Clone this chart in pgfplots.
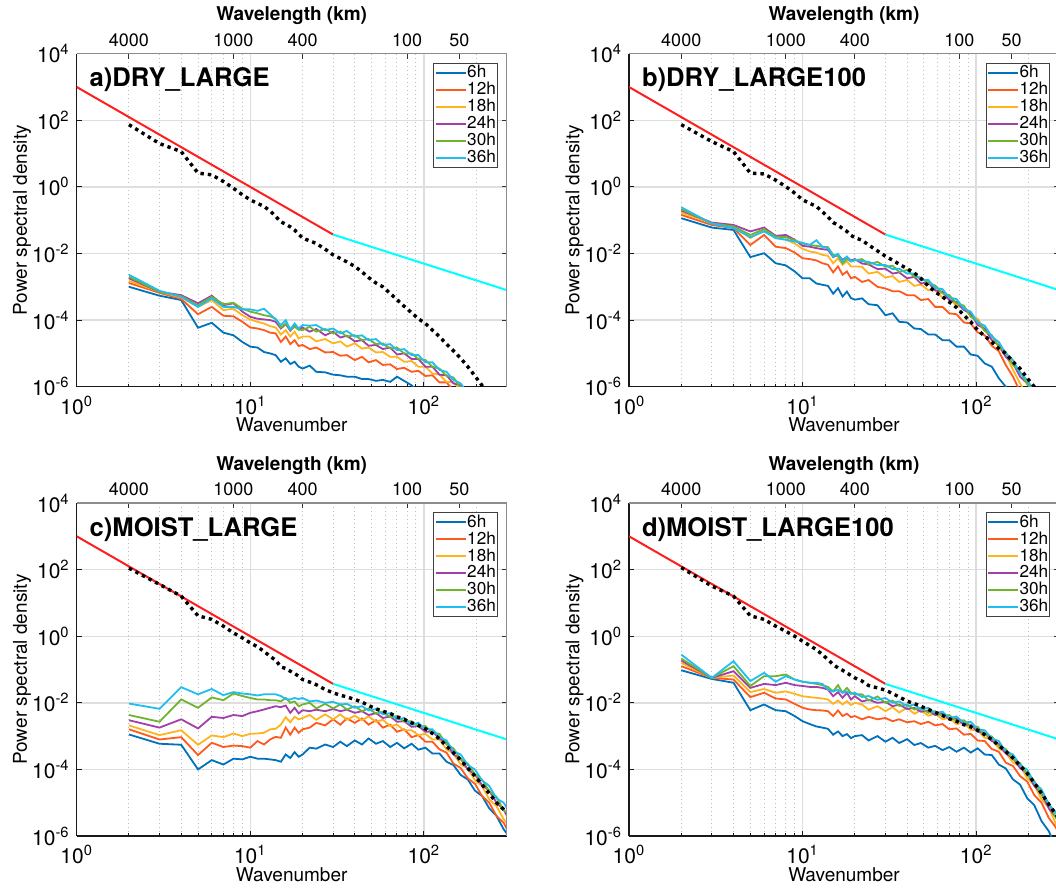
\documentclass[border=0pt]{standalone}
\usepackage{fontspec}
\setmainfont{TeX Gyre Heros}
\usepackage{pgfplots}
\usepackage{pgfplotstable}
\pgfplotsset{compat=1.18}

\definecolor{c6}{HTML}{0072BD}
\definecolor{c12}{HTML}{FF5A1E}
\definecolor{c18}{HTML}{FFB41E}
\definecolor{c24}{HTML}{A040A8}
\definecolor{c30}{HTML}{70B42D}
\definecolor{c36}{HTML}{1EBEF0}
\definecolor{redl}{HTML}{FF1E1E}
\definecolor{cyanl}{HTML}{00FFFF}
\definecolor{gridmaj}{HTML}{DEDEDE}
\definecolor{gridmin}{HTML}{BDBDBD}

\pgfplotsset{legend image code/.code={\draw[#1, line width=1pt] (0pt,0pt) -- (15pt,0pt);}}

% power spectra, columns: wavenumber, 6h ... 36h, reference (black dotted)
\pgfplotstableread{
k s6 s12 s18 s24 s30 s36 ref
2 1.0e-3 1.3e-3 1.5e-3 1.8e-3 2.0e-3 2.3e-3 74
3 5.4e-4 6.6e-4 7.1e-4 7.1e-4 7.1e-4 7.6e-4 20
4 4.0e-4 4.3e-4 4.8e-4 5.6e-4 5.2e-4 5.0e-4 11.5
5 5.9e-5 1.5e-4 2.5e-4 3.2e-4 2.8e-4 2.5e-4 2.6
6 8.3e-5 2.5e-4 4.0e-4 5.4e-4 5.0e-4 4.5e-4 2.3
7 4.2e-5 1.35e-4 2.0e-4 2.8e-4 3.0e-4 2.5e-4 1.45
8 3.5e-5 1.3e-4 2.2e-4 3.2e-4 3.3e-4 2.5e-4 0.91
9 2.2e-5 8.9e-5 1.4e-4 1.8e-4 2.2e-4 2.1e-4 0.58
10 1.6e-5 6.0e-5 1.05e-4 1.26e-4 1.8e-4 2.1e-4 0.41
11 1.5e-5 5.6e-5 8.9e-5 1.1e-4 1.6e-4 1.9e-4 0.32
12 1.1e-5 5.0e-5 7.9e-5 1.05e-4 1.4e-4 2.2e-4 0.26
13 1.0e-5 4.2e-5 6.6e-5 1.0e-4 1.3e-4 1.5e-4 0.19
14 8.9e-6 4.0e-5 6.0e-5 8.9e-5 1.1e-4 1.05e-4 0.13
15 5.6e-6 2.2e-5 3.7e-5 5.6e-5 6.0e-5 7.1e-5 0.089
16 7.1e-6 3.2e-5 5.0e-5 7.6e-5 7.9e-5 1.0e-4 0.076
17 4.8e-6 1.9e-5 3.2e-5 4.8e-5 5.2e-5 5.2e-5 0.063
18 5.6e-6 2.5e-5 4.5e-5 6.6e-5 6.3e-5 7.9e-5 0.051
19 4.0e-6 1.66e-5 2.8e-5 5.2e-5 5.2e-5 5.6e-5 0.038
20 3.5e-6 1.8e-5 3.2e-5 6.0e-5 5.0e-5 7.1e-5 0.029
22 4.3e-6 1.35e-5 3.2e-5 4.5e-5 6.3e-5 6.8e-5 0.024
24 2.8e-6 1.5e-5 2.3e-5 5.4e-5 4.5e-5 7.1e-5 0.020
27 2.7e-6 1.07e-5 2.7e-5 3.5e-5 5.4e-5 5.0e-5 0.0135
30 2.3e-6 1.1e-5 2.0e-5 4.5e-5 4.0e-5 5.6e-5 0.0091
33 2.2e-6 8.5e-6 2.3e-5 3.0e-5 4.5e-5 4.0e-5 0.0071
36 2.0e-6 8.9e-6 1.6e-5 3.4e-5 3.2e-5 4.7e-5 0.0056
40 2.0e-6 6.3e-6 2.0e-5 2.3e-5 3.5e-5 3.2e-5 0.0041
44 1.7e-6 7.9e-6 1.4e-5 2.5e-5 2.5e-5 3.5e-5 0.0028
48 1.7e-6 5.4e-6 1.5e-5 1.7e-5 2.7e-5 2.5e-5 0.0019
53 1.5e-6 6.3e-6 1.07e-5 1.8e-5 1.9e-5 2.7e-5 0.0013
58 1.6e-6 4.5e-6 1.1e-5 1.35e-5 2.0e-5 1.8e-5 1.0e-3
64 1.4e-6 4.7e-6 7.9e-6 1.5e-5 1.4e-5 1.9e-5 6.3e-4
70 2.0e-6 3.4e-6 7.9e-6 9.3e-6 1.5e-5 1.26e-5 4.1e-4
77 1.5e-6 3.7e-6 5.6e-6 1.0e-5 1.0e-5 1.35e-5 2.6e-4
85 1.1e-6 2.8e-6 5.9e-6 6.8e-6 1.0e-5 8.9e-6 1.66e-4
93 7.1e-7 3.0e-6 4.0e-6 6.8e-6 6.8e-6 8.9e-6 1.1e-4
102 nan 2.1e-6 4.0e-6 4.0e-6 6.3e-6 5.4e-6 7.9e-5
112 nan 2.2e-6 2.5e-6 4.0e-6 4.0e-6 5.4e-6 5.0e-5
123 nan 1.35e-6 2.3e-6 2.3e-6 3.5e-6 3.2e-6 3.2e-5
135 nan 1.35e-6 1.4e-6 2.2e-6 2.1e-6 2.8e-6 1.9e-5
148 nan 7.9e-7 1.35e-6 1.26e-6 1.9e-6 1.6e-6 1.2e-5
163 nan nan 7.9e-7 1.1e-6 9.3e-7 1.26e-6 7.1e-6
179 nan nan nan 6.3e-7 6.3e-7 6.3e-7 4.0e-6
197 nan nan nan nan nan nan 2.1e-6
216 nan nan nan nan nan nan 1.1e-6
238 nan nan nan nan nan nan 5.0e-7
}\tabA

\pgfplotstableread{
k s6 s12 s18 s24 s30 s36 ref
2 0.115 0.145 0.17 0.195 0.214 0.245 74
3 0.060 0.072 0.081 0.085 0.081 0.079 23
4 0.051 0.058 0.065 0.072 0.065 0.058 11.5
5 0.0078 0.018 0.029 0.046 0.036 0.031 2.6
6 0.0102 0.036 0.051 0.060 0.054 0.046 2.45
7 0.0051 0.016 0.029 0.034 0.032 0.029 1.6
8 0.0044 0.0145 0.026 0.036 0.031 0.026 1.02
9 0.0029 0.0107 0.020 0.026 0.025 0.023 0.65
10 0.0018 0.0072 0.0138 0.017 0.020 0.021 0.41
11 0.0018 0.0068 0.0115 0.016 0.018 0.018 0.32
12 0.00126 0.0062 0.0107 0.0145 0.017 0.025 0.26
13 0.00115 0.0051 0.0091 0.0135 0.016 0.016 0.18
14 0.00107 0.0046 0.0085 0.0129 0.0155 0.0145 0.126
15 6.2e-4 0.0027 0.0051 0.0078 0.0091 0.0081 0.085
16 9.1e-4 0.0041 0.0072 0.0091 0.0085 0.0098 0.071
17 5.1e-4 0.0023 0.0046 0.0065 0.0051 0.0058 0.056
18 7.2e-4 0.0029 0.0058 0.0078 0.0068 0.0081 0.046
19 4.6e-4 0.0018 0.0041 0.0062 0.0058 0.0058 0.035
20 4.1e-4 0.0020 0.0041 0.0068 0.0062 0.0065 0.030
22 4.5e-4 0.0014 0.0040 0.0050 0.0068 0.0059 0.025
24 3.0e-4 0.0016 0.0025 0.0047 0.0047 0.0056 0.018
27 2.8e-4 0.0010 0.0028 0.0034 0.0056 0.0045 0.012
30 1.4e-4 8.9e-4 0.0019 0.0035 0.0040 0.0045 0.0083
33 1.6e-4 7.4e-4 0.0021 0.0025 0.0043 0.0034 0.0063
36 8.9e-5 7.4e-4 0.0014 0.0027 0.0028 0.0035 0.0048
40 8.5e-5 5.6e-4 0.0016 0.0018 0.0032 0.0025 0.0035
44 5.6e-5 5.6e-4 0.00107 0.0020 0.0020 0.0025 0.0026
48 5.4e-5 4.0e-4 0.00117 0.00126 0.0019 0.0016 0.0018
53 3.7e-5 4.3e-4 7.9e-4 0.00135 0.00126 0.0016 0.00105
58 3.7e-5 2.5e-4 7.9e-4 7.9e-4 0.0011 9.3e-4 7.1e-4
64 2.5e-5 2.5e-4 4.7e-4 7.1e-4 6.3e-4 8.5e-4 5.0e-4
70 2.5e-5 1.6e-4 4.5e-4 4.0e-4 5.6e-4 4.7e-4 3.5e-4
77 1.6e-5 1.5e-4 2.7e-4 3.5e-4 3.2e-4 4.3e-4 2.4e-4
85 1.6e-5 8.5e-5 2.3e-4 2.0e-4 2.7e-4 2.2e-4 1.4e-4
93 9.3e-6 7.9e-5 1.35e-4 1.6e-4 1.26e-4 1.8e-4 8.9e-5
102 8.5e-6 4.3e-5 1.1e-4 7.1e-5 9.3e-5 8.5e-5 5.0e-5
112 5.0e-6 3.5e-5 5.0e-5 5.6e-5 4.7e-5 6.8e-5 3.3e-5
123 4.0e-6 1.7e-5 3.5e-5 2.5e-5 3.5e-5 3.2e-5 2.2e-5
135 1.8e-6 1.17e-5 1.5e-5 1.8e-5 1.6e-5 2.2e-5 1.4e-5
148 1.0e-6 4.5e-6 9.3e-6 7.9e-6 1.1e-5 1.0e-5 1.0e-5
163 5.0e-7 2.0e-6 3.2e-6 5.0e-6 4.5e-6 6.3e-6 5.6e-6
179 nan 7.1e-7 1.26e-6 2.0e-6 2.8e-6 2.5e-6 3.5e-6
197 nan nan 5.0e-7 1.26e-6 1.17e-6 1.6e-6 1.8e-6
216 nan nan nan 5.6e-7 7.9e-7 7.1e-7 1.0e-6
238 nan nan nan nan nan nan 5.0e-7
}\tabB

\pgfplotstableread{
k s6 s12 s18 s24 s30 s36 ref
2 1.12e-3 1.6e-3 2.1e-3 3.0e-3 4.3e-3 9.5e-3 110
3 5.9e-4 7.9e-4 1.07e-3 1.8e-3 2.7e-3 6.6e-3 36
4 5.5e-4 9.3e-4 1.5e-3 3.2e-3 1.26e-2 2.95e-2 16
5 1.0e-4 2.7e-4 5.5e-4 1.7e-3 7.1e-3 1.8e-2 4.1
6 1.9e-4 6.3e-4 1.05e-3 3.8e-3 1.45e-2 2.6e-2 3.2
7 1.4e-4 4.7e-4 9.3e-4 3.5e-3 1.2e-2 1.7e-2 2.0
8 2.1e-4 5.2e-4 1.2e-3 4.3e-3 1.9e-2 2.1e-2 1.26
9 2.0e-4 5.0e-4 1.0e-3 4.0e-3 1.6e-2 1.9e-2 0.89
10 2.4e-4 4.5e-4 1.17e-3 5.0e-3 1.4e-2 1.8e-2 0.63
11 2.1e-4 7.1e-4 1.2e-3 5.6e-3 1.26e-2 1.66e-2 0.48
12 2.1e-4 5.6e-4 1.26e-3 6.3e-3 1.26e-2 1.8e-2 0.35
13 2.0e-4 7.9e-4 1.6e-3 7.1e-3 1.2e-2 1.8e-2 0.25
14 1.9e-4 9.5e-4 1.66e-3 7.9e-3 1.2e-2 1.8e-2 0.19
15 1.7e-4 8.9e-4 2.2e-3 7.4e-3 1.1e-2 1.6e-2 0.12
16 2.8e-4 1.8e-3 3.7e-3 8.3e-3 1.4e-2 1.3e-2 0.107
17 2.2e-4 1.1e-3 2.6e-3 5.0e-3 1.0e-2 1.26e-2 0.089
18 3.3e-4 1.8e-3 3.8e-3 7.1e-3 1.1e-2 1.4e-2 0.076
19 2.4e-4 1.26e-3 3.2e-3 4.8e-3 7.9e-3 1.3e-2 0.063
20 2.8e-4 1.6e-3 3.5e-3 6.0e-3 8.9e-3 1.4e-2 0.050
22 4.5e-4 1.8e-3 4.3e-3 5.6e-3 1.0e-2 1.1e-2 0.042
24 4.2e-4 2.5e-3 3.1e-3 6.2e-3 6.8e-3 1.17e-2 0.035
27 5.6e-4 2.1e-3 4.5e-3 5.6e-3 9.3e-3 1.0e-2 0.025
30 4.7e-4 3.2e-3 3.2e-3 6.5e-3 6.8e-3 1.07e-2 0.020
33 6.8e-4 2.2e-3 4.5e-3 5.6e-3 8.9e-3 8.9e-3 0.017
36 5.0e-4 3.4e-3 3.1e-3 6.2e-3 6.3e-3 9.3e-3 0.015
40 7.4e-4 2.5e-3 4.1e-3 5.0e-3 7.9e-3 7.1e-3 0.0126
44 5.6e-4 3.4e-3 3.0e-3 5.6e-3 5.6e-3 7.9e-3 0.0105
48 8.5e-4 2.2e-3 3.9e-3 4.3e-3 6.8e-3 5.9e-3 8.3e-3
53 5.9e-4 3.0e-3 2.7e-3 4.9e-3 4.7e-3 6.5e-3 6.6e-3
58 7.1e-4 1.8e-3 3.1e-3 3.5e-3 5.4e-3 4.5e-3 5.6e-3
64 4.7e-4 2.2e-3 2.0e-3 3.9e-3 3.7e-3 4.9e-3 4.8e-3
70 6.3e-4 1.35e-3 2.2e-3 2.7e-3 4.0e-3 3.2e-3 3.8e-3
77 4.3e-4 1.6e-3 1.5e-3 2.8e-3 2.7e-3 3.5e-3 3.2e-3
85 5.9e-4 9.3e-4 1.5e-3 1.9e-3 2.8e-3 2.2e-3 2.5e-3
93 3.9e-4 1.07e-3 1.07e-3 2.0e-3 1.9e-3 2.5e-3 2.1e-3
102 4.5e-4 6.8e-4 1.17e-3 1.35e-3 2.0e-3 1.6e-3 1.66e-3
112 3.0e-4 6.8e-4 7.9e-4 1.35e-3 1.26e-3 1.6e-3 1.2e-3
123 3.0e-4 4.0e-4 7.9e-4 8.5e-4 1.17e-3 9.3e-4 8.3e-4
135 1.7e-4 3.2e-4 4.0e-4 6.3e-4 5.6e-4 7.4e-4 5.0e-4
148 1.35e-4 1.5e-4 3.0e-4 2.8e-4 4.3e-4 3.5e-4 3.2e-4
163 6.8e-5 1.1e-4 1.4e-4 2.1e-4 2.0e-4 2.8e-4 1.9e-4
179 5.0e-5 5.4e-5 1.07e-4 1.0e-4 1.5e-4 1.35e-4 1.1e-4
197 2.3e-5 3.7e-5 4.7e-5 7.1e-5 7.1e-5 1.0e-4 6.3e-5
216 1.6e-5 1.6e-5 3.2e-5 3.4e-5 5.0e-5 4.7e-5 3.5e-5
238 6.8e-6 1.0e-5 1.26e-5 2.3e-5 2.2e-5 3.2e-5 1.9e-5
262 4.0e-6 4.0e-6 7.9e-6 1.0e-5 1.5e-5 1.35e-5 1.0e-5
288 1.6e-6 2.5e-6 3.2e-6 6.3e-6 5.9e-6 1.0e-5 6.3e-6
300 1.2e-6 1.66e-6 2.5e-6 4.2e-6 5.0e-6 7.1e-6 5.0e-6
}\tabC

\pgfplotstableread{
k s6 s12 s18 s24 s30 s36 ref
2 0.095 0.126 0.158 0.186 0.214 0.28 115
3 0.052 0.056 0.056 0.056 0.056 0.056 32
4 0.040 0.050 0.066 0.089 0.126 0.178 16
5 0.0060 0.0148 0.021 0.028 0.032 0.045 4.1
6 0.0089 0.020 0.026 0.037 0.063 0.079 3.2
7 0.0060 0.0135 0.020 0.034 0.063 0.043 2.0
8 0.0056 0.0126 0.022 0.040 0.071 0.063 1.41
9 0.0040 0.0093 0.0186 0.034 0.050 0.050 1.0
10 0.0028 0.0071 0.0158 0.032 0.043 0.043 0.71
11 0.0023 0.0063 0.0148 0.030 0.040 0.040 0.52
12 0.00195 0.0060 0.0141 0.030 0.037 0.040 0.40
13 0.0018 0.0059 0.0135 0.028 0.034 0.037 0.28
14 0.00166 0.0056 0.0126 0.025 0.030 0.025 0.20
15 0.0011 0.0040 0.0093 0.0158 0.022 0.022 0.141
16 0.00138 0.0059 0.0117 0.021 0.034 0.025 0.112
17 0.0010 0.0040 0.0089 0.0141 0.020 0.020 0.095
18 0.00115 0.0047 0.0112 0.020 0.028 0.022 0.079
19 8.7e-4 0.0037 0.0085 0.0126 0.020 0.0186 0.066
20 0.0010 0.0040 0.010 0.0158 0.0178 0.020 0.056
22 1.07e-3 3.2e-3 8.9e-3 1.1e-2 1.8e-2 1.5e-2 0.045
24 7.4e-4 3.8e-3 6.2e-3 1.23e-2 1.17e-2 1.6e-2 0.033
27 1.0e-3 3.2e-3 7.9e-3 1.0e-2 1.55e-2 1.23e-2 0.028
30 6.8e-4 3.5e-3 5.6e-3 1.07e-2 1.0e-2 1.4e-2 0.024
33 8.9e-4 2.8e-3 7.4e-3 7.9e-3 1.17e-2 1.0e-2 0.019
36 6.2e-4 3.2e-3 5.1e-3 8.9e-3 8.1e-3 1.1e-2 0.015
40 8.1e-4 2.6e-3 7.1e-3 6.5e-3 8.9e-3 7.9e-3 0.0112
44 5.4e-4 2.8e-3 4.7e-3 7.1e-3 6.3e-3 8.9e-3 9.5e-3
48 6.2e-4 2.3e-3 5.9e-3 5.4e-3 7.1e-3 6.3e-3 7.9e-3
53 4.5e-4 2.7e-3 4.1e-3 5.9e-3 5.0e-3 7.1e-3 6.3e-3
58 5.1e-4 2.1e-3 4.7e-3 4.3e-3 5.6e-3 4.9e-3 5.2e-3
64 3.8e-4 2.3e-3 3.2e-3 4.7e-3 3.9e-3 5.4e-3 4.2e-3
70 4.7e-4 1.6e-3 3.5e-3 3.2e-3 4.3e-3 3.5e-3 3.3e-3
77 3.4e-4 1.7e-3 2.3e-3 3.4e-3 2.8e-3 3.9e-3 2.8e-3
85 4.5e-4 1.1e-3 2.5e-3 2.2e-3 3.0e-3 2.5e-3 2.2e-3
93 3.2e-4 1.17e-3 1.55e-3 2.2e-3 1.95e-3 2.7e-3 1.9e-3
102 4.3e-4 7.4e-4 1.5e-3 1.35e-3 1.9e-3 1.6e-3 1.5e-3
112 2.8e-4 7.1e-4 8.9e-4 1.26e-3 1.07e-3 1.5e-3 1.1e-3
123 2.7e-4 4.1e-4 8.1e-4 7.1e-4 9.8e-4 8.5e-4 7.9e-4
135 1.4e-4 3.4e-4 4.3e-4 5.9e-4 5.1e-4 7.1e-4 5.2e-4
148 1.07e-4 1.6e-4 3.2e-4 3.0e-4 4.1e-4 3.5e-4 3.5e-4
163 5.0e-5 1.26e-4 1.6e-4 2.2e-4 2.0e-4 2.8e-4 2.2e-4
179 3.5e-5 6.3e-5 1.26e-4 1.1e-4 1.55e-4 1.35e-4 1.3e-4
197 1.35e-5 4.3e-5 5.4e-5 7.8e-5 6.8e-5 9.8e-5 7.6e-5
216 8.5e-6 1.7e-5 3.4e-5 3.2e-5 4.5e-5 4.0e-5 4.0e-5
238 2.8e-6 1.0e-5 1.26e-5 1.9e-5 1.7e-5 2.5e-5 1.9e-5
262 1.4e-6 3.5e-6 7.1e-6 6.8e-6 1.0e-5 8.9e-6 8.9e-6
288 4.5e-7 1.8e-6 2.3e-6 3.7e-6 3.5e-6 5.0e-6 4.5e-6
300 3.2e-7 1.1e-6 1.9e-6 2.4e-6 2.8e-6 3.3e-6 3.3e-6
}\tabD

% #1 x, #2 y of lower-left corner, #3 table, #4 panel title
\newcommand{\psdpanel}[4]{%
  \begin{axis}[
    at={(#1,#2)}, anchor=south west,
    scale only axis, width=215pt, height=166.5pt,
    xmode=log, ymode=log, xmin=1, xmax=300, ymin=1e-6, ymax=1e4,
    axis x line*=bottom, axis y line*=left,
    axis line style={-, line width=0.6pt, black!90},
    tick align=inside, major tick length=2.6pt, minor tick length=1.4pt,
    tick style={black!90, line width=0.5pt},
    xtick={1,10,100},
    xticklabels={10\textsuperscript{0},10\textsuperscript{1},10\textsuperscript{2}},
    minor xtick={2,3,4,5,6,7,8,9,20,30,40,50,60,70,80,90,200},
    ytick={1e-6,1e-4,1e-2,1,1e2,1e4},
    yticklabels={10\textsuperscript{-6},10\textsuperscript{-4},10\textsuperscript{-2},10\textsuperscript{0},10\textsuperscript{2},10\textsuperscript{4}},
    yminorticks=false,
    xmajorgrids, xminorgrids, ymajorgrids,
    major grid style={line width=0.7pt, gridmaj},
    minor grid style={line width=0.5pt, gridmin, dash pattern=on 0.6pt off 1.4pt},
    tick label style={font=\fontsize{10.5}{12}\selectfont},
    xticklabel style={yshift=-1pt},
    xlabel={Wavenumber}, ylabel={Power spectral density},
    label style={font=\fontsize{9.5}{11}\selectfont},
    xlabel style={at={(axis description cs:0.5,-0.136)}, anchor=base},
    ylabel style={at={(axis description cs:-0.1156,0.5)}, anchor=base},
    legend style={at={(1,1)}, anchor=north east, xshift=-4.5pt, yshift=-4.6pt,
      draw=black!75, line width=0.5pt, fill=white, inner xsep=0.3pt, inner ysep=0.6pt,
      font=\fontsize{8.6}{8.6}\selectfont, cells={anchor=west}, nodes={inner sep=0.35pt}},
    every axis plot/.append style={line width=0.9pt},
  ]
    \addplot[redl, line width=1pt, forget plot] coordinates {(1,1000) (30,0.037037)};
    \addplot[cyanl, line width=1pt, forget plot] coordinates {(30,0.037037) (300,0.000797)};
    \addplot[c6] table[x=k, y=s6] {#3};
    \addplot[c12] table[x=k, y=s12] {#3};
    \addplot[c18] table[x=k, y=s18] {#3};
    \addplot[c24] table[x=k, y=s24] {#3};
    \addplot[c30] table[x=k, y=s30] {#3};
    \addplot[c36] table[x=k, y=s36] {#3};
    \addplot[black, line width=1.7pt, dash pattern=on 1.7pt off 2pt, forget plot] table[x=k, y=ref] {#3};
    \legend{6h,12h,18h,24h,30h,36h}
    \node[anchor=base west, inner sep=0pt, xshift=6.3pt, yshift=-16.5pt,
      font=\fontsize{12.8}{15}\selectfont\bfseries] at (rel axis cs:0,1) {#4};
  \end{axis}
  \begin{axis}[
    at={(#1,#2)}, anchor=south west,
    scale only axis, width=215pt, height=166.5pt,
    xmode=log, ymode=log, xmin=1, xmax=300, ymin=1e-6, ymax=1e4,
    axis x line*=top, axis y line*=right,
    axis line style={-, line width=0.6pt, black!45},
    xtick={2,8,20,80,160}, xticklabels={4000,1000,400,100,50},
    xminorticks=false, yminorticks=false,
    ytick={1e-4,1e-2,1,1e2}, yticklabels={},
    tick align=inside, major tick length=2.6pt,
    tick style={black!80, line width=0.5pt},
    tick label style={font=\fontsize{9}{11}\selectfont},
    xlabel={\bfseries Wavelength (km)},
    xlabel style={font=\fontsize{9.5}{11}\selectfont, at={(axis description cs:0.5,1.099)}, anchor=base},
  ]
  \end{axis}
}

\begin{document}
\begin{tikzpicture}
\useasboundingbox (0,0) rectangle (528pt,-444.5pt);
\clip (0,0) rectangle (528pt,-444.5pt);
\psdpanel{38.35pt}{-193.35pt}{\tabA}{a)DRY\_LARGE}
\psdpanel{314.5pt}{-193.35pt}{\tabB}{b)DRY\_LARGE100}
\psdpanel{38.35pt}{-418pt}{\tabC}{c)MOIST\_LARGE}
\psdpanel{314.5pt}{-418pt}{\tabD}{d)MOIST\_LARGE100}
\end{tikzpicture}
\end{document}
